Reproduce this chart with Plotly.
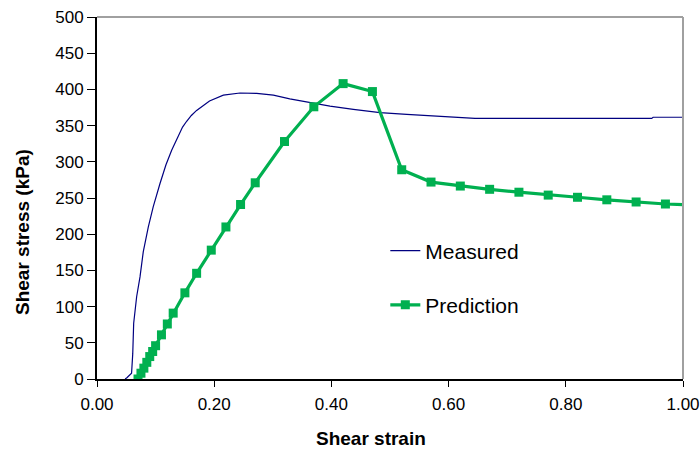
import plotly.graph_objects as go

# Measured curve
meas_x = [0.048, 0.051, 0.059, 0.061, 0.0626, 0.0677, 0.0734, 0.079, 0.0876, 0.096,
          0.1075, 0.1177, 0.1274, 0.1388, 0.146, 0.153, 0.161, 0.170, 0.181, 0.192,
          0.2156, 0.244, 0.2725, 0.301, 0.329, 0.3635, 0.3976, 0.4374, 0.483, 0.5285,
          0.585, 0.616, 0.645, 0.9466, 0.949, 1.0]
meas_y = [0, 1.8, 8, 35, 77, 114, 141, 176, 210, 238,
          270, 296, 316, 337, 348, 356, 364, 371, 378, 384,
          392, 395, 394.5, 392, 387, 382, 377, 372.5, 368, 365.5,
          363, 361.5, 360, 360, 361.5, 361.5]

# Prediction
pred_x = [0.07, 0.075, 0.08, 0.085, 0.09, 0.095, 0.10, 0.11, 0.12, 0.13,
          0.15, 0.17, 0.195, 0.22, 0.245, 0.27, 0.32, 0.37, 0.42, 0.47,
          0.52, 0.57, 0.62, 0.67, 0.72, 0.77, 0.82, 0.87, 0.92, 0.97, 1.02]
pred_y = [0, 8, 15, 23, 31, 38, 46, 61, 76, 91,
          119, 146, 178, 210, 241, 271, 328, 376, 408, 397,
          289, 272, 266.5, 262, 258, 254, 251, 247.5, 244.5, 241.7, 240.5]

x_ticks = [0.0, 0.2, 0.4, 0.6, 0.8, 1.0]
x_labels = ["0.00", "0.20", "0.40", "0.60", "0.80", "1.00"]
y_ticks = list(range(0, 501, 50))

fig = go.Figure()
fig.add_trace(go.Scatter(
    x=meas_x, y=meas_y, mode="lines", name="Measured",
    line=dict(color="#000080", width=1.2), legendgroup="a"))
fig.add_trace(go.Scatter(
    x=pred_x, y=pred_y, mode="lines+markers", name="Prediction",
    line=dict(color="#00B050", width=3.2),
    marker=dict(symbol="square", size=9, color="#00B050"), legendgroup="b"))

font_family = "Liberation Sans, Arial, sans-serif"

fig.update_layout(
    width=700, height=450,
    margin=dict(l=97, r=17, t=17, b=71),
    paper_bgcolor="white", plot_bgcolor="white",
    font=dict(family=font_family, color="black", size=17),
    showlegend=True,
    legend=dict(x=0.492, y=0.4105, xanchor="left", yanchor="top",
                font=dict(size=21), bgcolor="rgba(0,0,0,0)",
                traceorder="grouped", tracegroupgap=24, itemwidth=30),
    xaxis=dict(range=[0, 1], tickvals=x_ticks, ticktext=x_labels,
               showgrid=False, zeroline=False, automargin=False,
               showline=True, linecolor="black", linewidth=2,
               ticks="outside", ticklen=6, tickcolor="black", tickwidth=1,
               ticklabelstandoff=3,
               tickfont=dict(size=17)),
    yaxis=dict(range=[0, 500], tickvals=y_ticks,
               showgrid=False, zeroline=False, automargin=False,
               showline=True, linecolor="black", linewidth=2,
               ticks="outside", ticklen=8, tickcolor="black", tickwidth=1,
               tickfont=dict(size=17)),
    annotations=[
        dict(text="<b>Shear strain</b>", xref="paper", yref="paper",
             x=(371 - 97) / 586, y=-(438 - 379) / 362, xanchor="center", yanchor="middle",
             showarrow=False, font=dict(size=19)),
        dict(text="<b>Shear stress (kPa)</b>", xref="paper", yref="paper",
             x=-(97 - 22) / 586, y=(379 - 232) / 362, xanchor="center", yanchor="middle",
             textangle=-90, showarrow=False, font=dict(size=19)),
    ],
    shapes=[
        dict(type="line", xref="paper", yref="paper", x0=0, x1=1, y0=1, y1=1,
             line=dict(color="#A0A0A0", width=2)),
        dict(type="line", xref="paper", yref="paper", x0=1, x1=1, y0=0, y1=1,
             line=dict(color="#A0A0A0", width=2)),
    ],
)

fig.write_html("out.html")
